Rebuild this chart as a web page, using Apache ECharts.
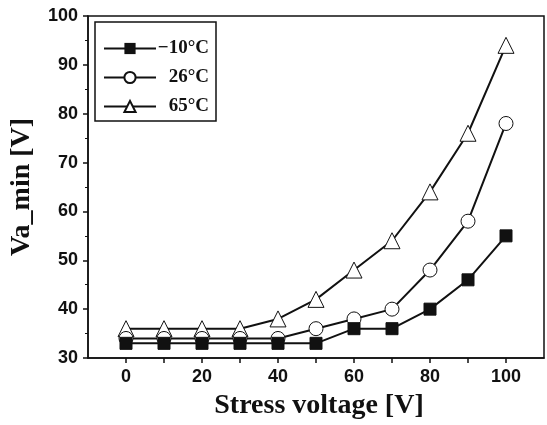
<!DOCTYPE html>
<html><head><meta charset="utf-8">
<script src="https://cdn.jsdelivr.net/npm/echarts@6/dist/echarts.min.js"></script>
<style>html,body{margin:0;padding:0;background:#fff}#c{width:547px;height:425px}</style>
</head><body><div id="c"></div>
<script>
const stress = [0,10,20,30,40,50,60,70,80,90,100];
const sNeg10 = [33,33,33,33,33,33,36,36,40,46,55];
const s26 = [34,34,34,34,34,36,38,40,48,58,78];
const s65 = [36,36,36,36,38,42,48,54,64,76,94];
const seriesNames = ['\u221210\u00b0C','26\u00b0C','65\u00b0C'];
const xTickLabels = [0,20,40,60,80,100];
const xTicks = [0,10,20,30,40,50,60,70,80,90,100];

const pairs = a => stress.map((x,i)=>[x,a[i]]);
const chart = echarts.init(document.getElementById('c'));
const lineStyle = {color:'#111', width:2};
chart.setOption({
  animation:false,
  backgroundColor:'#fff',
  grid:{left:88,right:3,top:16,bottom:64,show:true,borderColor:'#111',borderWidth:1.5,backgroundColor:'transparent'},
  legend:{
    orient:'vertical', left:95, top:22,
    padding:[17,7,5,8], itemGap:10,
    borderColor:'#111', borderWidth:1.5,
    itemWidth:52, itemHeight:14,
    formatter: n => '{a|' + n + '}',
    textStyle:{fontFamily:'Liberation Serif', fontWeight:'bold', fontSize:19, color:'#111',
      rich:{a:{width:48, align:'right', fontFamily:'Liberation Serif', fontWeight:'bold', fontSize:19, color:'#111'}}},
    data: seriesNames
  },
  xAxis:{
    type:'value', min:-10, max:110,
    name:'Stress voltage [V]', nameLocation:'middle', nameGap:34,
    nameTextStyle:{fontFamily:'Liberation Serif', fontWeight:'bold', fontSize:28, color:'#111', padding:[0,0,0,6]},
    axisLine:{onZero:false, lineStyle:{color:'#111',width:1.5}},
    axisTick:{show:true, customValues:xTicks, length:5, lineStyle:{color:'#111',width:1.5}},
    axisLabel:{customValues:xTickLabels, fontFamily:'Liberation Sans', fontWeight:'bold', fontSize:18, color:'#111', margin:10},
    splitLine:{show:false}
  },
  yAxis:{
    type:'value', min:30, max:100, interval:10,
    name:'Va_min [V]', nameLocation:'middle', nameGap:52,
    nameTextStyle:{fontFamily:'Liberation Serif', fontWeight:'bold', fontSize:28, color:'#111'},
    axisLine:{onZero:false, lineStyle:{color:'#111',width:1.5}},
    axisTick:{show:true, length:5, lineStyle:{color:'#111',width:1.5}},
    minorTick:{show:true, splitNumber:2, length:3, lineStyle:{color:'#111',width:1}},
    axisLabel:{fontFamily:'Liberation Sans', fontWeight:'bold', fontSize:18, color:'#111', margin:10},
    splitLine:{show:false}
  },
  series:[
    {name:seriesNames[0], type:'line', data:pairs(sNeg10), symbol:'rect', symbolSize:12,
     itemStyle:{color:'#111', borderColor:'#111'}, lineStyle:lineStyle, z:3},
    {name:seriesNames[1], type:'line', data:pairs(s26), symbol:'circle', symbolSize:14,
     itemStyle:{color:'#fff', borderColor:'#111', borderWidth:1}, lineStyle:lineStyle, z:2},
    {name:seriesNames[2], type:'line', data:pairs(s65), symbol:'triangle', symbolSize:16,
     itemStyle:{color:'#fff', borderColor:'#111', borderWidth:1}, lineStyle:lineStyle, z:1}
  ]
});
</script></body></html>
